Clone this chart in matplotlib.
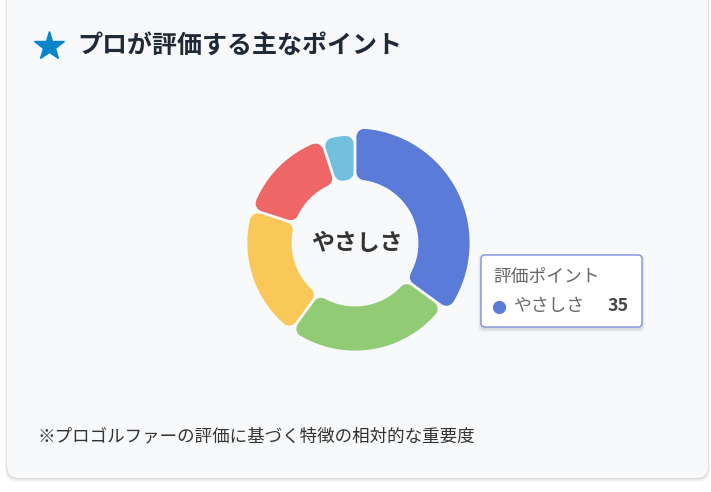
import numpy as np
import matplotlib.pyplot as plt
from matplotlib.patches import Polygon, FancyBboxPatch

plt.rcParams['font.family'] = ['Noto Sans CJK JP', 'DejaVu Sans']

# ---- data
labels = ["やさしさ", "項目2", "項目3", "項目4", "項目5"]
values = [35, 25, 20, 15, 5]
colors = ["#5b7bd9", "#91cc75", "#fac858", "#ee6666", "#73c0de"]
title = "プロが評価する主なポイント"
note = "※プロゴルファーの評価に基づく特徴の相対的な重要度"
tip_title = "評価ポイント"
active = 0

W, H = 711, 492
fig = plt.figure(figsize=(W / 100, H / 100), dpi=100)
ax = fig.add_axes([0, 0, 1, 1])
ax.set_xlim(0, W)
ax.set_ylim(H, 0)
ax.set_aspect("equal")
ax.axis("off")
fig.patch.set_facecolor("white")

# ---- card with soft shadow
for i, a in enumerate([0.025, 0.03, 0.04, 0.05]):
    s = 4 - i
    ax.add_patch(FancyBboxPatch((7 - s * 0.5, -20 - s * 0.2), 701 + s, 498 + s * 1.2,
                                boxstyle="round,pad=0,rounding_size=12",
                                fc="#000000", ec="none", alpha=a, zorder=0))
ax.add_patch(FancyBboxPatch((7, -20), 701, 498, boxstyle="round,pad=0,rounding_size=12",
                            fc="#f8f9fb", ec="none", zorder=1))

# ---- title
ax.plot(49, 46, marker="*", ms=22, color="#0a84c8", mec="#0a84c8", zorder=3)
ax.text(77, 46, title, fontsize=18, fontweight="bold", color="#1f2937",
        va="center", ha="left", zorder=3)

# ---- donut with rounded segments
cx, cy = 355, 243
r_in, r_out, r_hover = 62, 109, 116
gap = 1.4
rad = 8
start = 90.0
ang = np.array(values) / sum(values) * 360.0
bounds = start - np.concatenate([[0], np.cumsum(ang)])


def seg_poly(a1, a2, ri, ro, d):
    # sector shrunk inward by d so a thick round-joined edge gives rounded corners
    pts = []
    ro2, ri2 = ro - d, ri + d
    o1 = a1 + np.degrees(np.arcsin(d / ro2))
    o2 = a2 - np.degrees(np.arcsin(d / ro2))
    i1 = a1 + np.degrees(np.arcsin(min(d / ri2, 1)))
    i2 = a2 - np.degrees(np.arcsin(min(d / ri2, 1)))
    if i2 < i1:
        i1 = i2 = (a1 + a2) / 2
    for t in np.linspace(o1, o2, 80):
        pts.append((cx + ro2 * np.cos(np.radians(t)), cy - ro2 * np.sin(np.radians(t))))
    for t in np.linspace(i2, i1, 80):
        pts.append((cx + ri2 * np.cos(np.radians(t)), cy - ri2 * np.sin(np.radians(t))))
    return pts


for i, v in enumerate(values):
    a2, a1 = bounds[i], bounds[i + 1]
    ro = r_hover if i == active else r_out
    pts = seg_poly(a1, a2, r_in, ro, rad + gap)
    lw = 2 * rad * 72 / 100
    ax.add_patch(Polygon(pts, closed=True, fc=colors[i], ec=colors[i], lw=lw,
                         joinstyle="round", zorder=4))

ax.text(cx + 2, cy, labels[active], fontsize=16.5, fontweight="bold", color="#333333",
        ha="center", va="center", zorder=5)

# ---- tooltip
tx, ty, tw, th = 481, 255, 161, 72
for i, a in enumerate([0.03, 0.04, 0.05]):
    s = 3 - i
    ax.add_patch(FancyBboxPatch((tx - s, ty - s + 2), tw + 2 * s, th + 2 * s,
                                boxstyle="round,pad=0,rounding_size=5",
                                fc="#000000", ec="none", alpha=a, zorder=6))
ax.add_patch(FancyBboxPatch((tx, ty), tw, th, boxstyle="round,pad=0,rounding_size=4",
                            fc="white", ec="#8191dd", lw=1, zorder=7))
ax.text(tx + 12, ty + 22, tip_title, fontsize=12.8, color="#666666",
        ha="left", va="center", zorder=8)
ax.plot(tx + 18, ty + 52, "o", ms=8.5, color=colors[active], zorder=8)
ax.text(tx + 33, ty + 51, labels[active], fontsize=12.8, color="#666666",
        ha="left", va="center", zorder=8)
ax.text(tx + tw - 13, ty + 51, str(values[active]), fontsize=12.8, fontweight="bold",
        color="#464646", ha="right", va="center", zorder=8)

# ---- footnote
ax.text(37, 436, note, fontsize=12.6, color="#333333", ha="left", va="center", zorder=3)

fig.savefig("out.png", dpi=100, facecolor="white")
